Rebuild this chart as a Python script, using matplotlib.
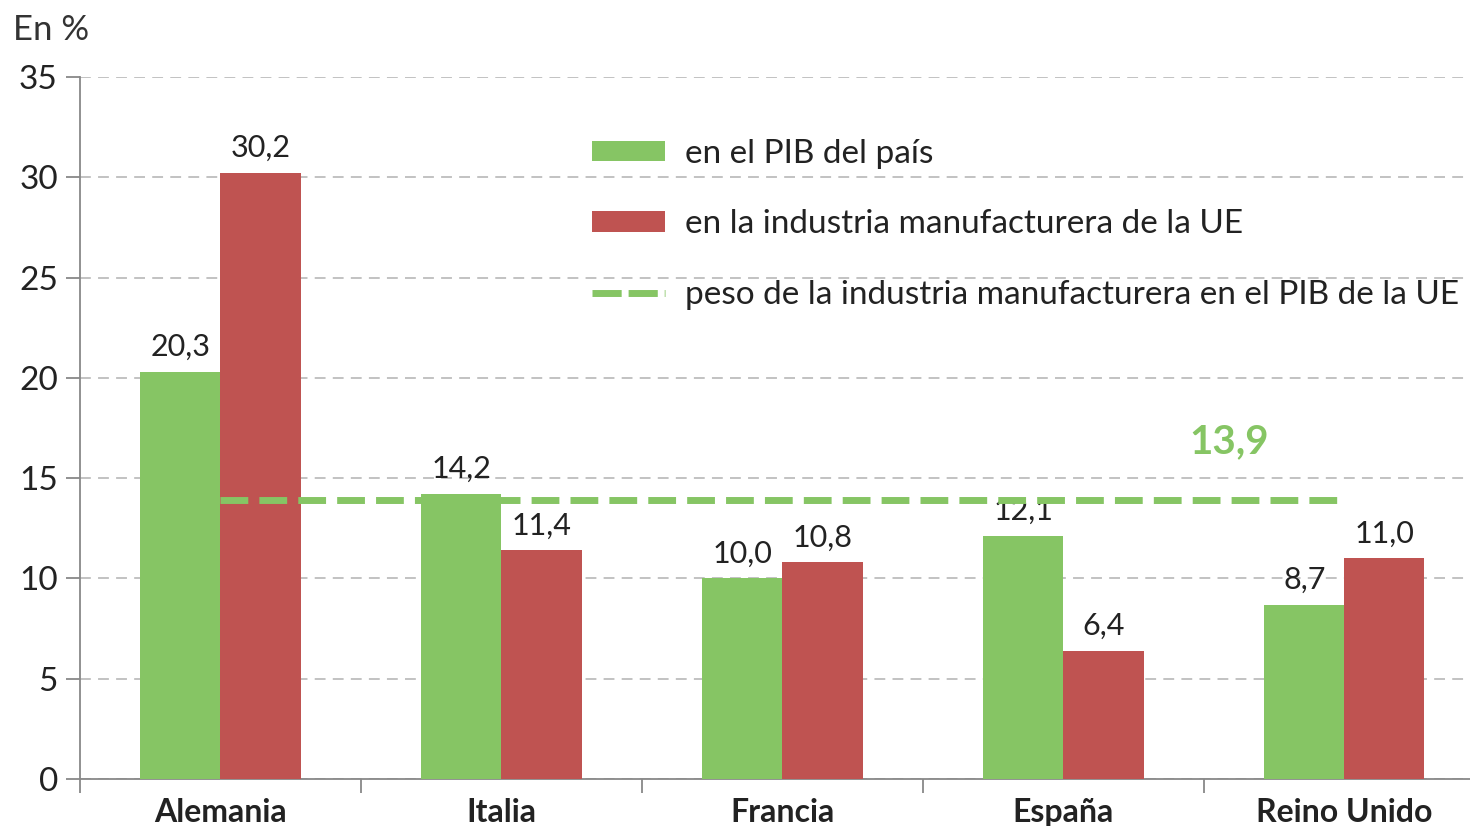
import matplotlib
matplotlib.use("Agg")
import matplotlib.pyplot as plt
from matplotlib.patches import Patch
from matplotlib.lines import Line2D
import numpy as np

plt.rcParams['font.family'] = ['Lato', 'DejaVu Sans']

countries = ["Alemania", "Italia", "Francia", "España", "Reino Unido"]
pib_pais = [20.3, 14.2, 10.0, 12.1, 8.7]
industria_ue = [30.2, 11.4, 10.8, 6.4, 11.0]
peso_ue = 13.9
yticks = [0, 5, 10, 15, 20, 25, 30, 35]

green = '#86c564'
red = '#bf5351'
text_c = '#222222'

fig = plt.figure(figsize=(14.7, 8.26), dpi=100)
ax = fig.add_axes([80/1470, 1-779/826, 1-80/1470, (779-77)/826])

x = np.arange(len(countries))
w = 0.285
ax.bar(x - w/2, pib_pais, width=w, color=green, zorder=3)
ax.bar(x + w/2, industria_ue, width=w, color=red, zorder=3)

def fmt(v):
    return f"{v:.1f}".replace('.', ',')

for xi, v in zip(x - w/2, pib_pais):
    ax.text(xi, v + 0.55, fmt(v), ha='center', va='bottom', fontsize=22, color=text_c, zorder=4)
for xi, v in zip(x + w/2, industria_ue):
    ax.text(xi, v + 0.55, fmt(v), ha='center', va='bottom', fontsize=22, color=text_c, zorder=4)

ax.hlines(peso_ue, x[0], x[-1], colors=green, linewidth=5, linestyles=(0, (4, 1.6)), zorder=5)
ax.text(3.59, 16.8, fmt(peso_ue), ha='center', va='center', fontsize=29, fontweight='bold', color=green)

ax.set_yticks(yticks)
ax.set_yticklabels([str(t) for t in yticks], fontsize=24, color=text_c)
ax.yaxis.grid(True, color='#bdbdbd', linestyle=(0, (6, 4)), linewidth=1.3, zorder=0)
ax.set_axisbelow(True)

ax.set_xticks(x)
ax.set_xticklabels(countries, fontsize=23, fontweight='bold', color=text_c)
ax.tick_params(axis='x', length=0, pad=14)
ax.set_xticks(np.arange(-0.5, 4.6, 1.0), minor=True)
ax.tick_params(axis='x', which='minor', length=10, color='#888888', width=1.3)
ax.tick_params(axis='y', length=10, color='#888888', width=1.3, pad=6)
ax.set_xlim(-0.5, 4.447)
ax.set_ylim(0, 35)

for s in ['top', 'right']:
    ax.spines[s].set_visible(False)
for s in ['left', 'bottom']:
    ax.spines[s].set_color('#888888')
    ax.spines[s].set_linewidth(1.3)

fig.text(13/1470, 1-30/826, "En %", fontsize=25, color='#333333', ha='left', va='center')

handles = [
    Patch(facecolor=green, edgecolor='none'),
    Patch(facecolor=red, edgecolor='none'),
    Line2D([0], [0], color=green, linewidth=5, linestyle=(0, (4.2, 1.0))),
]
labels = ["en el PIB del país", "en la industria manufacturera de la UE",
          "peso de la industria manufacturera en el PIB de la UE"]
leg = ax.legend(handles, labels, loc='upper left', bbox_to_anchor=(565/1470, 1-112/826),
                bbox_transform=fig.transFigure, frameon=False, fontsize=24,
                handlelength=2.2, handleheight=0.55, labelspacing=1.22, handletextpad=0.6,
                borderpad=0.3)
for t in leg.get_texts():
    t.set_color(text_c)

fig.savefig("out.png", dpi=100)
